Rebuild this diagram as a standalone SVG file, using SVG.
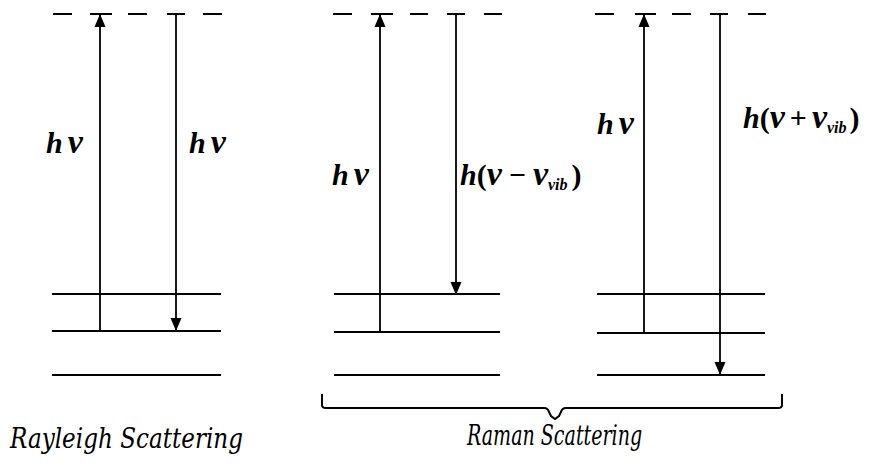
<svg xmlns="http://www.w3.org/2000/svg" width="874" height="468" viewBox="0 0 874 468">
<style>
.lvl{stroke:#000;stroke-width:2;fill:none}
.dash{stroke:#000;stroke-width:2.2;fill:none}
.arr{stroke:#000;stroke-width:1.8;fill:none}
.lab{font-family:"Liberation Serif","Times New Roman",serif;font-weight:bold;font-size:30px;fill:#000}
.it{font-style:italic}
.nu{font-style:italic;font-size:34px}
.sub{font-size:16px;font-style:italic}
.cap{font-family:"DejaVu Serif",serif;font-style:italic;font-size:28px;fill:#000}
</style>
<defs>
<marker id="ah" markerUnits="userSpaceOnUse" markerWidth="14" markerHeight="14" viewBox="0 0 14 14" refX="13" refY="7" orient="auto">
<path d="M0,1.5 L13,7 L0,12.5 Z" fill="#000"/>
</marker>
</defs>
<rect width="874" height="468" fill="#fff"/>

<g id="rayleigh">
<path class="dash" d="M53,14H72M90,14H112M128,14H147M167,14H185M203,14H222"/>
<path class="lvl" d="M52,294H221M52,331H221M52,375H221"/>
<text class="lab" x="46" y="153"><tspan class="it">h</tspan><tspan class="nu" dx="5">ν</tspan></text>
<text class="lab" x="189" y="153"><tspan class="it">h</tspan><tspan class="nu" dx="5">ν</tspan></text>
<text class="cap" transform="translate(10,448) scale(0.825,1)">Rayleigh Scattering</text>
</g>

<g id="raman-stokes">
<path class="dash" d="M333,14H352M371,14H393M410,14H428M447,14H465M484,14H502"/>
<path class="lvl" d="M334,294H500M334,332H500M334,375H500"/>
<text class="lab" x="332" y="185"><tspan class="it">h</tspan><tspan class="nu" dx="5">ν</tspan></text>
<text class="lab" x="460" y="185"><tspan class="it">h</tspan>(<tspan class="nu">ν</tspan><tspan dx="7">−</tspan><tspan class="nu" dx="7">ν</tspan><tspan class="sub" dy="5">vib</tspan><tspan dy="-5" dx="4">)</tspan></text>
</g>

<g id="raman-antistokes">
<path class="dash" d="M595,14H614M635,14H656M672,14H691M710,14H728M748,14H766"/>
<path class="lvl" d="M597,294H765M597,333H765M597,375H765"/>
<text class="lab" x="597" y="134"><tspan class="it">h</tspan><tspan class="nu" dx="5">ν</tspan></text>
<text class="lab" x="743" y="128"><tspan class="it">h</tspan>(<tspan class="nu">ν</tspan><tspan dx="5">+</tspan><tspan class="nu" dx="5">ν</tspan><tspan class="sub" dy="5">vib</tspan><tspan dy="-5" dx="3">)</tspan></text>
</g>

<g id="raman-label">
<path class="lvl" d="M322,394V405Q322,408 326,408H544Q548,408 549,412L551,416L555,419L559,416L561,412Q562,408 566,408H778Q782,408 782,405V394"/>
<text class="cap" transform="translate(467,445) scale(0.68,1)">Raman Scattering</text>
</g>

<g id="connectors">
<line class="arr" x1="100" y1="331" x2="100" y2="14" marker-end="url(#ah)"/>
<line class="arr" x1="176" y1="14" x2="176" y2="331" marker-end="url(#ah)"/>
<line class="arr" x1="380" y1="332" x2="380" y2="14" marker-end="url(#ah)"/>
<line class="arr" x1="456" y1="14" x2="456" y2="295" marker-end="url(#ah)"/>
<line class="arr" x1="644" y1="333" x2="644" y2="14" marker-end="url(#ah)"/>
<line class="arr" x1="720" y1="14" x2="720" y2="375" marker-end="url(#ah)"/>
</g>
</svg>
